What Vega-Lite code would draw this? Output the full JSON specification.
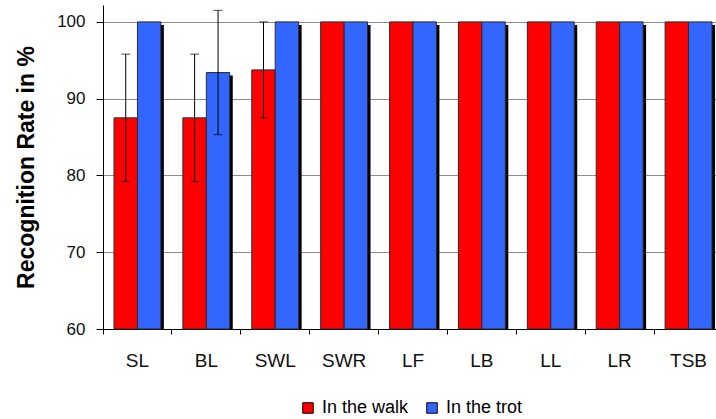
{
  "$schema": "https://vega.github.io/schema/vega-lite/v6.json",
  "autosize": "none",
  "width": 620,
  "height": 324,
  "padding": {"left": 103, "top": 5, "right": 0, "bottom": 90},
  "background": "white",
  "config": {
    "view": {"stroke": null},
    "font": "Liberation Sans",
    "axis": {"labelFont": "Liberation Sans", "titleFont": "Liberation Sans"},
    "legend": {"labelFont": "Liberation Sans"}
  },
  "data": {
    "values": [
      {"cat": "SL", "series": "In the walk", "value": 87.5, "lo": 79.2, "hi": 95.8},
      {"cat": "SL", "series": "In the trot", "value": 100, "lo": null, "hi": null},
      {"cat": "BL", "series": "In the walk", "value": 87.5, "lo": 79.2, "hi": 95.8},
      {"cat": "BL", "series": "In the trot", "value": 93.4, "lo": 85.3, "hi": 101.5},
      {"cat": "SWL", "series": "In the walk", "value": 93.75, "lo": 87.5, "hi": 100},
      {"cat": "SWL", "series": "In the trot", "value": 100, "lo": null, "hi": null},
      {"cat": "SWR", "series": "In the walk", "value": 100, "lo": null, "hi": null},
      {"cat": "SWR", "series": "In the trot", "value": 100, "lo": null, "hi": null},
      {"cat": "LF", "series": "In the walk", "value": 100, "lo": null, "hi": null},
      {"cat": "LF", "series": "In the trot", "value": 100, "lo": null, "hi": null},
      {"cat": "LB", "series": "In the walk", "value": 100, "lo": null, "hi": null},
      {"cat": "LB", "series": "In the trot", "value": 100, "lo": null, "hi": null},
      {"cat": "LL", "series": "In the walk", "value": 100, "lo": null, "hi": null},
      {"cat": "LL", "series": "In the trot", "value": 100, "lo": null, "hi": null},
      {"cat": "LR", "series": "In the walk", "value": 100, "lo": null, "hi": null},
      {"cat": "LR", "series": "In the trot", "value": 100, "lo": null, "hi": null},
      {"cat": "TSB", "series": "In the walk", "value": 100, "lo": null, "hi": null},
      {"cat": "TSB", "series": "In the trot", "value": 100, "lo": null, "hi": null}
    ]
  },
  "encoding": {
    "x": {
      "field": "cat",
      "type": "nominal",
      "sort": null,
      "scale": {"paddingInner": 0, "paddingOuter": 0},
      "axis": {
        "title": null,
        "bandPosition": 0,
        "labelAngle": 0,
        "labelFontSize": 19,
        "labelColor": "#111",
        "labelPadding": 17,
        "tickSize": 5,
        "tickColor": "#000",
        "domainColor": "#000",
        "grid": false
      }
    }
  },
  "resolve": {"scale": {"xOffset": "independent"}},
  "layer": [
    {
      "mark": {"type": "bar", "color": "#000", "yOffset": 3},
      "encoding": {
        "xOffset": {
          "field": "series",
          "type": "nominal",
          "sort": ["In the walk", "In the trot"],
          "scale": {"paddingInner": 0, "paddingOuter": 0.47, "align": 0.636}
        },
        "y": {
          "field": "value",
          "type": "quantitative",
          "scale": {"domain": [60, 102.2], "nice": false, "zero": false},
          "axis": {
            "title": "Recognition Rate in %",
            "values": [60, 70, 80, 90, 100],
            "labelFontSize": 17,
            "labelColor": "#111",
            "labelPadding": 11,
            "tickSize": 7,
            "tickColor": "#000",
            "domainColor": "#000",
            "grid": true,
            "gridColor": "#8c8c8c",
            "titleFontSize": 23,
            "titleFontWeight": "bold",
            "titleColor": "#000",
            "titleAngle": -90,
            "titleX": -70,
            "titleY": 162,
            "titleAlign": "center",
            "titleBaseline": "alphabetic"
          }
        },
        "y2": {"datum": 60}
      }
    },
    {
      "layer": [
        {
          "mark": {"type": "bar", "stroke": "#2a2a2a", "strokeWidth": 1},
          "encoding": {
            "y": {"field": "value", "type": "quantitative"},
            "y2": {"datum": 60},
            "color": {
              "field": "series",
              "type": "nominal",
              "sort": ["In the walk", "In the trot"],
              "scale": {"domain": ["In the walk", "In the trot"], "range": ["#ff0000", "#3366ff"]},
              "legend": {
                "title": null,
                "orient": "none",
                "legendX": 196,
                "legendY": 394,
                "direction": "horizontal",
                "symbolType": "square",
                "symbolSize": 110,
                "symbolStrokeColor": "#000",
                "symbolStrokeWidth": 1,
                "symbolOpacity": 1,
                "labelFontSize": 18,
                "labelColor": "#000",
                "labelOffset": 5,
                "columnPadding": 14
              }
            }
          }
        },
        {
          "transform": [{"filter": "datum.lo != null"}],
          "mark": {"type": "rule", "color": "#000", "strokeWidth": 1},
          "encoding": {
            "y": {"field": "lo", "type": "quantitative"},
            "y2": {"field": "hi"}
          }
        },
        {
          "transform": [{"filter": "datum.lo != null"}],
          "mark": {"type": "tick", "color": "#000", "size": 9, "thickness": 1, "orient": "horizontal"},
          "encoding": {
            "y": {"field": "lo", "type": "quantitative"}
          }
        },
        {
          "transform": [{"filter": "datum.lo != null"}],
          "mark": {"type": "tick", "color": "#000", "size": 9, "thickness": 1, "orient": "horizontal"},
          "encoding": {
            "y": {"field": "hi", "type": "quantitative"}
          }
        }
      ],
      "encoding": {
        "xOffset": {
          "field": "series",
          "type": "nominal",
          "sort": ["In the walk", "In the trot"],
          "scale": {"paddingInner": 0, "paddingOuter": 0.47}
        }
      }
    }
  ]
}
